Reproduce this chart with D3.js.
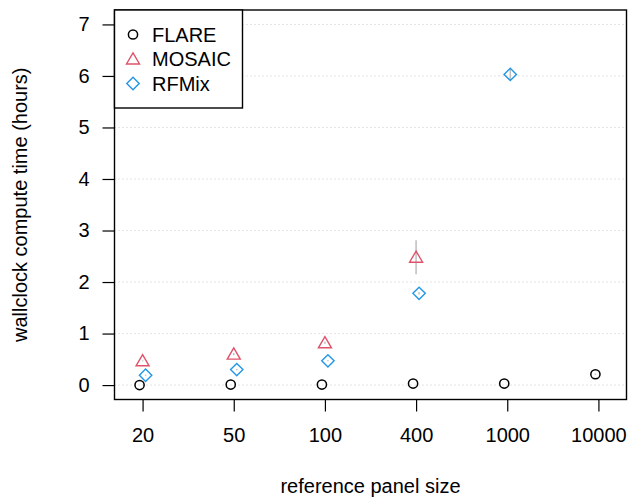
<!DOCTYPE html>
<html>
<head>
<meta charset="utf-8">
<script src="https://cdn.jsdelivr.net/npm/d3@7/dist/d3.min.js"></script>
<style>
  body { margin: 0; background: #fff; }
  svg { display: block; font-family: "Liberation Sans", Arial, sans-serif; }
</style>
</head>
<body>
<svg id="chart" width="629" height="498"></svg>
<script>
// panel sizes on the x axis
var panelSizes = ["20", "50", "100", "400", "1000", "10000"];
var yTicks = [0, 1, 2, 3, 4, 5, 6, 7];

// mean wallclock hours per method (null = not run)
var flareHours  = [0.0, 0.01, 0.01, 0.03, 0.03, 0.21];
var mosaicHours = [0.47, 0.60, 0.82, 2.48, null, null];
var rfmixHours  = [0.19, 0.30, 0.47, 1.78, 6.03, null];

// spread (half length of the grey bars)
var flareErr  = [0, 0, 0, 0, 0, 0.01];
var mosaicErr = [0.01, 0.02, 0.02, 0.33, null, null];
var rfmixErr  = [0.01, 0.01, 0.01, 0.02, 0.11, null];

var methods = ["FLARE", "MOSAIC", "RFMix"];
var colors = ["#000000", "#DF536B", "#2297E6"];
var offsets = [-0.033, 0, 0.033];

var svg = d3.select("#chart");
var plotLeft = 114.5, plotRight = 626.5, plotTop = 10, plotBottom = 399.5;

var x = d3.scaleLinear().domain([0.692, 6.308]).range([plotLeft, plotRight]);
var y = d3.scaleLinear().domain([-0.28, 7.28]).range([plotBottom, plotTop]);

// dotted grid
svg.append("g").selectAll("line")
    .data(yTicks)
    .enter().append("line")
    .attr("x1", plotLeft).attr("x2", plotRight)
    .attr("y1", function(d) { return y(d); })
    .attr("y2", function(d) { return y(d); })
    .attr("stroke", "#c8c8c8")
    .attr("stroke-width", 1)
    .attr("stroke-dasharray", "1,3");

// y axis
var yAxis = svg.append("g")
    .attr("transform", "translate(" + plotLeft + ",0)")
    .call(d3.axisLeft(y).tickValues(yTicks).tickSize(12).tickPadding(13));
yAxis.select(".domain").remove();
yAxis.selectAll(".tick line").attr("stroke", "#000").attr("stroke-width", 1.2);
yAxis.selectAll(".tick text").attr("font-size", "20px").attr("fill", "#000")
    .attr("font-family", "Liberation Sans, Arial, sans-serif");

// x axis
var xAxis = svg.append("g")
    .attr("transform", "translate(0," + plotBottom + ")")
    .call(d3.axisBottom(x).tickValues([1, 2, 3, 4, 5, 6])
        .tickFormat(function(d) { return panelSizes[d - 1]; })
        .tickSize(12).tickPadding(16));
xAxis.select(".domain").remove();
xAxis.selectAll(".tick line").attr("stroke", "#000").attr("stroke-width", 1.2);
xAxis.selectAll(".tick text").attr("font-size", "20px").attr("fill", "#000")
    .attr("font-family", "Liberation Sans, Arial, sans-serif");

// axis titles
svg.append("text")
    .attr("x", (plotLeft + plotRight) / 2).attr("y", 493)
    .attr("text-anchor", "middle")
    .attr("font-size", "20px")
    .text("reference panel size");

svg.append("text")
    .attr("transform", "translate(27," + ((plotTop + plotBottom) / 2) + ") rotate(-90)")
    .attr("text-anchor", "middle")
    .attr("font-size", "20px")
    .text("wallclock compute time (hours)");

// symbols
function drawSymbol(g, m, cx, cy) {
    if (m == 0) {
        g.append("circle").attr("cx", cx).attr("cy", cy).attr("r", 4.6)
            .attr("fill", "none").attr("stroke", colors[m]).attr("stroke-width", 1.5);
    } else if (m == 1) {
        var s = 6.2;
        g.append("path")
            .attr("d", "M" + cx + "," + (cy - s) + "L" + (cx + s * 1.05) + "," + (cy + s * 0.8) +
                "L" + (cx - s * 1.05) + "," + (cy + s * 0.8) + "Z")
            .attr("fill", "none").attr("stroke", colors[m]).attr("stroke-width", 1.4);
    } else {
        var d = 6.2;
        g.append("path")
            .attr("d", "M" + cx + "," + (cy - d) + "L" + (cx + d) + "," + cy +
                "L" + cx + "," + (cy + d) + "L" + (cx - d) + "," + cy + "Z")
            .attr("fill", "none").attr("stroke", colors[m]).attr("stroke-width", 1.4);
    }
}

var allHours = [flareHours, mosaicHours, rfmixHours];
var allErr = [flareErr, mosaicErr, rfmixErr];

var marks = svg.append("g");
for (var m = 0; m < 3; m++) {
    for (var i = 0; i < panelSizes.length; i++) {
        var v = allHours[m][i];
        if (v == null) continue;
        var px = x(i + 1 + offsets[m]);
        var e = allErr[m][i] || 0;
        if (e > 0) {
            marks.append("line")
                .attr("x1", px).attr("x2", px)
                .attr("y1", y(v - e)).attr("y2", y(v + e))
                .attr("stroke", "#bdbdbd").attr("stroke-width", 1.5);
        }
        drawSymbol(marks, m, px, y(v));
    }
}

// frame
svg.append("rect")
    .attr("x", plotLeft).attr("y", plotTop)
    .attr("width", plotRight - plotLeft).attr("height", plotBottom - plotTop)
    .attr("fill", "none").attr("stroke", "#000").attr("stroke-width", 1.4);

// legend
var legend = svg.append("g");
legend.append("rect")
    .attr("x", plotLeft).attr("y", plotTop)
    .attr("width", 128).attr("height", 98)
    .attr("fill", "#fff").attr("stroke", "#000").attr("stroke-width", 1.4);
var rowY = [34.5, 59, 83.5];
for (var k = 0; k < methods.length; k++) {
    drawSymbol(legend, k, 133, rowY[k]);
    legend.append("text")
        .attr("x", 152).attr("y", rowY[k] + 7)
        .attr("font-size", "20px")
        .text(methods[k]);
}
</script>
</body>
</html>
